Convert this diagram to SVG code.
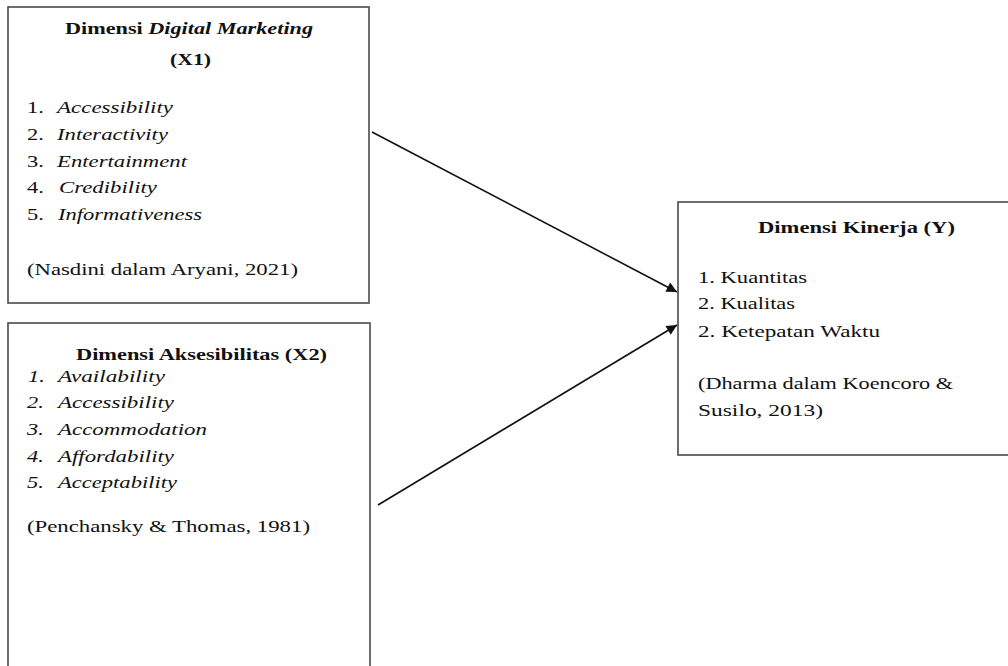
<svg xmlns="http://www.w3.org/2000/svg" width="1008" height="666" viewBox="0 0 1008 666">
  <defs>
    <style>
      .box { fill: #ffffff; stroke: #4a4a4a; stroke-width: 1.6; }
      text { font-family: "Liberation Serif", "Times New Roman", serif; font-size: 17px; fill: #111111; }
      .b { font-weight: bold; }
      .i { font-style: italic; }
      .conn { stroke: #111111; stroke-width: 1.6; fill: none; marker-end: url(#arrow); }
    </style>
    <marker id="arrow" viewBox="0 0 10 10" refX="10" refY="5" markerWidth="8.5" markerHeight="6.5" markerUnits="strokeWidth" orient="auto">
      <path d="M0,0 L10,5 L0,10 Z" fill="#111111"/>
    </marker>
  </defs>
  <rect width="1008" height="666" fill="#ffffff"/>

  <g id="node-x1">
    <rect class="box" x="8" y="7" width="361" height="296"/>
    <g transform="scale(1.32 1)">
      <text class="b" x="49.24" y="34" textLength="187.9" lengthAdjust="spacingAndGlyphs">Dimensi <tspan class="i">Digital Marketing</tspan></text>
      <text class="b" x="128.79" y="65" textLength="31.1" lengthAdjust="spacingAndGlyphs">(X1)</text>
      <text x="20.45" y="113">1.</text><text class="i" x="43.18" y="113" textLength="87.9" lengthAdjust="spacingAndGlyphs">Accessibility</text>
      <text x="20.45" y="140">2.</text><text class="i" x="43.18" y="140" textLength="84.1" lengthAdjust="spacingAndGlyphs">Interactivity</text>
      <text x="20.45" y="167">3.</text><text class="i" x="43.18" y="167" textLength="98.5" lengthAdjust="spacingAndGlyphs">Entertainment</text>
      <text x="20.45" y="193">4.</text><text class="i" x="44.7" y="193" textLength="74.2" lengthAdjust="spacingAndGlyphs">Credibility</text>
      <text x="20.45" y="220">5.</text><text class="i" x="43.94" y="220" textLength="109.1" lengthAdjust="spacingAndGlyphs">Informativeness</text>
      <text x="20.45" y="275" textLength="205.3" lengthAdjust="spacingAndGlyphs">(Nasdini dalam Aryani, 2021)</text>
    </g>
  </g>

  <g id="node-x2">
    <rect class="box" x="8" y="323" width="362" height="360"/>
    <g transform="scale(1.32 1)">
      <text class="b" x="57.58" y="360" textLength="190.2" lengthAdjust="spacingAndGlyphs">Dimensi Aksesibilitas (X2)</text>
      <text class="i" x="21.21" y="382">1.</text><text class="i" x="43.94" y="382" textLength="81.1" lengthAdjust="spacingAndGlyphs">Availability</text>
      <text class="i" x="20.45" y="408">2.</text><text class="i" x="43.94" y="408" textLength="87.9" lengthAdjust="spacingAndGlyphs">Accessibility</text>
      <text class="i" x="20.45" y="435">3.</text><text class="i" x="43.94" y="435" textLength="112.9" lengthAdjust="spacingAndGlyphs">Accommodation</text>
      <text class="i" x="20.45" y="462">4.</text><text class="i" x="43.94" y="462" textLength="87.9" lengthAdjust="spacingAndGlyphs">Affordability</text>
      <text class="i" x="20.45" y="488">5.</text><text class="i" x="43.94" y="488" textLength="90.2" lengthAdjust="spacingAndGlyphs">Acceptability</text>
      <text x="20.45" y="532" textLength="214.4" lengthAdjust="spacingAndGlyphs">(Penchansky &amp; Thomas, 1981)</text>
    </g>
  </g>

  <g id="node-y">
    <rect class="box" x="678" y="202" width="340" height="253"/>
    <g transform="scale(1.32 1)">
      <text class="b" x="574.24" y="233" textLength="149.2" lengthAdjust="spacingAndGlyphs">Dimensi Kinerja (Y)</text>
      <text x="528.79" y="283" textLength="82.6" lengthAdjust="spacingAndGlyphs">1. Kuantitas</text>
      <text x="528.79" y="309" textLength="73.5" lengthAdjust="spacingAndGlyphs">2. Kualitas</text>
      <text x="528.79" y="337" textLength="137.9" lengthAdjust="spacingAndGlyphs">2. Ketepatan Waktu</text>
      <text x="528.79" y="389" textLength="193.2" lengthAdjust="spacingAndGlyphs">(Dharma dalam Koencoro &amp;</text>
      <text x="528.79" y="416" textLength="94.7" lengthAdjust="spacingAndGlyphs">Susilo, 2013)</text>
    </g>
  </g>

  <g id="connectors">
    <line class="conn" x1="372" y1="132" x2="677" y2="292"/>
    <line class="conn" x1="378" y1="505" x2="677" y2="325"/>
  </g>
</svg>
